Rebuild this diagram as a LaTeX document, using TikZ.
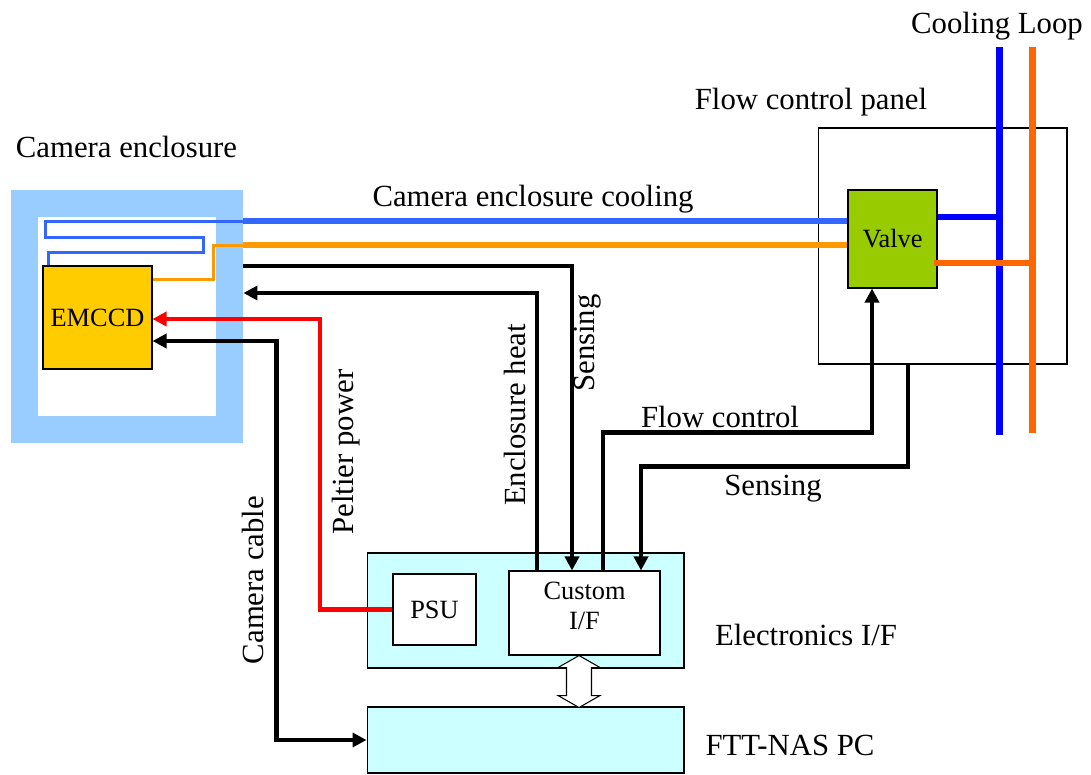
\documentclass[tikz,border=0pt]{standalone}
\usepackage{fontspec}
\setmainfont{Liberation Serif}
\usepackage{xcolor}
\usetikzlibrary{arrows.meta, positioning, calc}
\definecolor{enclblue}{RGB}{153, 204, 255}
\definecolor{coolblue}{RGB}{51, 102, 255}
\definecolor{coolorange}{RGB}{255, 153, 0}
\definecolor{loopblue}{RGB}{0, 0, 255}
\definecolor{looporange}{RGB}{255, 102, 0}
\definecolor{ccdgold}{RGB}{255, 204, 0}
\definecolor{valvegreen}{RGB}{153, 204, 0}
\definecolor{ifcyan}{RGB}{204, 255, 255}

\begin{document}
\begin{tikzpicture}[
    x=0.02cm, y=-0.02cm,
    >={Triangle[length=0.28cm, width=0.28cm]},
    box/.style={draw, line width=0.6pt, inner sep=0pt,
                font=\fontsize{15}{17}\selectfont},
    lbl/.style={inner sep=0pt, font=\fontsize{17.5}{20}\selectfont},
    sig/.style={->, line width=0.09cm},
    pwr/.style={sig, red},
    pipethin/.style={line width=0.06cm},
    pipe/.style={line width=0.12cm},
    loop/.style={line width=0.14cm}
]
    \useasboundingbox (0,0) rectangle (1091,774);

    % enclosures and panels
    \node[draw=enclblue, line width=0.54cm, minimum width=4.12cm,
          minimum height=4.52cm] (encl) at (127,316.5) {};
    \node[box, minimum width=4.98cm, minimum height=4.72cm] (panel) at (942.5,246) {};
    \node[box, fill=ifcyan, minimum width=6.34cm, minimum height=2.3cm] (elec) at (525.5,610.5) {};
    \node[box, fill=ifcyan, minimum width=6.34cm, minimum height=1.32cm] (pc) at (525.5,740) {};

    % cooling loop
    \coordinate (bluetop) at (999,47);
    \coordinate (bluebot) at (999,435);
    \coordinate (orangetop) at (1032,47);
    \coordinate (orangebot) at (1032,433);
    \draw[loop, loopblue] (bluetop) -- (bluebot);
    \draw[loop, looporange] (orangetop) -- (orangebot);

    % inner boxes
    \node[box, fill=valvegreen, minimum width=1.78cm, minimum height=1.96cm] (valve) at (892.5,239) {Valve};
    \node[box, fill=white, minimum width=1.66cm, minimum height=1.42cm] (psu) at (434.5,609.5) {PSU};
    \node[box, fill=white, minimum width=3.02cm, minimum height=1.68cm] (custom) at (584.5,613) {};
    \node[box, draw=none, align=center, below=0.22cm of custom.north] (customtxt) {Custom\\I/F};

    % coolant pipes
    \draw[pipethin, coolblue] (encl.east |- 0,221) -- (45,221) |- (203,237)
        |- (48,252) -- (48,266);
    \draw[pipe, coolblue] (encl.east |- 0,221) -- (valve.west |- 0,221);
    \draw[pipethin, coolorange] (152,279) -| (213,245) -- (encl.east |- 0,245);
    \draw[pipe, coolorange] (encl.east |- 0,245) -- (valve.west |- 0,245);
    \draw[pipe, loopblue] (valve.east |- 0,217) -- (bluetop |- 0,217);
    \draw[pipe, looporange] ([xshift=-0.08cm]valve.east |- 0,263) -- (orangetop |- 0,263);

    \node[box, fill=ccdgold, minimum width=2.18cm, minimum height=2.06cm] (emccd) at (97.5,317.5) {EMCCD};

    % signals
    \draw[sig] (encl.east |- 0,266) -| ([xshift=-0.25cm]custom.north);
    \draw[sig] ([xshift=-0.95cm]custom.north) |- (encl.east |- 0,293);
    \draw[pwr] (psu.west) -| (320,319) -- (emccd.east |- 0,319);
    \draw[sig, <->] (emccd.east |- 0,341) -| ([xshift=-1.8cm]pc.west) -- (pc.west);
    \draw[sig] ([xshift=0.37cm]custom.north) -- ++(0,-138) -| ([xshift=-0.41cm]valve.south);
    \draw[sig] ([xshift=-0.69cm]panel.south) -- ++(0,102) -| ([xshift=1.13cm]custom.north);

    % data link
    \draw[line width=0.6pt, fill=white] ([xshift=-0.11cm]custom.south) -- ++(21,12) -- ++(-8.5,0)
        -- ++(0,28) -- ++(8.5,0) -- ++(-21,12) -- ++(-21,-12) -- ++(8.5,0)
        -- ++(0,-28) -- ++(-8.5,0) -- cycle;

    % labels
    \node[lbl, anchor=base] (encllbl) at (126.5,157) {Camera enclosure};
    \node[lbl, anchor=base] (looplbl) at (997,33) {Cooling Loop};
    \node[lbl, anchor=base] (panellbl) at (811,109) {Flow control panel};
    \node[lbl, anchor=base] (coollbl) at (533,206) {Camera enclosure cooling};
    \node[lbl, anchor=base] (flowlbl) at (720,427) {Flow control};
    \node[lbl, anchor=base] (senselbl) at (773,495) {Sensing};
    \node[lbl, anchor=base] (eleclbl) at (806,645) {Electronics I/F};
    \node[lbl, anchor=base] (pclbl) at (790,755) {FTT-NAS PC};
    \node[lbl, rotate=90] (heatlbl) at (515,415) {Enclosure heat};
    \node[lbl, rotate=90] (senselbltwo) at (588,343) {Sensing};
    \node[lbl, rotate=90] (peltlbl) at (346,452) {Peltier power};
    \node[lbl, rotate=90] (cablelbl) at (253,580) {Camera cable};
\end{tikzpicture}
\end{document}
